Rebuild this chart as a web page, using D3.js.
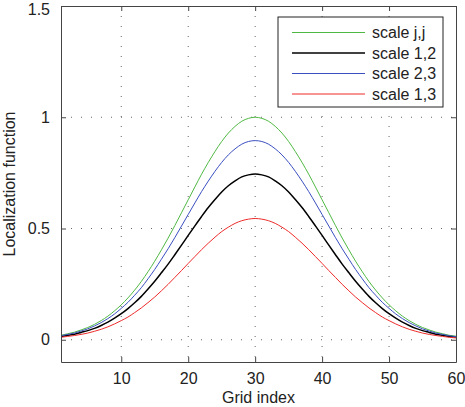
<!DOCTYPE html>
<html>
<head>
<meta charset="utf-8">
<script src="https://cdn.jsdelivr.net/npm/d3@7"></script>
<style>
  body { margin: 0; background: #fff; }
  svg text { font-family: "Liberation Sans", Arial, sans-serif; fill: #222; }
  .grid line { stroke: #555; stroke-width: 0.9; stroke-dasharray: 1,9; }
</style>
</head>
<body>
<div id="chart"></div>
<script>
// grid index 1..60
let gridIndex = d3.range(1, 61);

// values
let scaleJJ = [0.020,0.027,0.034,0.044,0.055,0.069,0.086,0.106,0.130,0.157,
               0.188,0.223,0.262,0.306,0.353,0.404,0.457,0.513,0.571,0.629,
               0.687,0.744,0.797,0.846,0.891,0.929,0.959,0.982,0.995,1.000,
               0.995,0.982,0.959,0.929,0.891,0.846,0.797,0.744,0.687,0.629,
               0.571,0.513,0.457,0.404,0.353,0.306,0.262,0.223,0.188,0.157,
               0.130,0.106,0.086,0.069,0.055,0.044,0.034,0.027,0.020,0.016];

let scale12 = [0.015,0.020,0.025,0.033,0.041,0.051,0.064,0.079,0.097,0.117,
               0.140,0.166,0.195,0.228,0.263,0.301,0.340,0.382,0.425,0.469,
               0.512,0.554,0.594,0.630,0.664,0.692,0.714,0.732,0.741,0.745,
               0.741,0.732,0.714,0.692,0.664,0.630,0.594,0.554,0.512,0.469,
               0.425,0.382,0.340,0.301,0.263,0.228,0.195,0.166,0.140,0.117,
               0.097,0.079,0.064,0.051,0.041,0.033,0.025,0.020,0.015,0.012];

let scale23 = [0.018,0.024,0.030,0.039,0.049,0.062,0.077,0.095,0.116,0.141,
               0.168,0.200,0.234,0.274,0.316,0.362,0.409,0.459,0.511,0.563,
               0.615,0.666,0.713,0.757,0.797,0.831,0.858,0.879,0.891,0.895,
               0.891,0.879,0.858,0.831,0.797,0.757,0.713,0.666,0.615,0.563,
               0.511,0.459,0.409,0.362,0.316,0.274,0.234,0.200,0.168,0.141,
               0.116,0.095,0.077,0.062,0.049,0.039,0.030,0.024,0.018,0.014];

let scale13 = [0.011,0.015,0.019,0.024,0.030,0.038,0.047,0.058,0.071,0.086,
               0.102,0.122,0.143,0.167,0.192,0.220,0.249,0.280,0.311,0.343,
               0.374,0.405,0.434,0.461,0.486,0.506,0.523,0.535,0.542,0.545,
               0.542,0.535,0.523,0.506,0.486,0.461,0.434,0.405,0.374,0.343,
               0.311,0.280,0.249,0.220,0.192,0.167,0.143,0.122,0.102,0.086,
               0.071,0.058,0.047,0.038,0.030,0.024,0.019,0.015,0.011,0.008];

let seriesNames = ["scale j,j", "scale 1,2", "scale 2,3", "scale 1,3"];
let xTicks = [10, 20, 30, 40, 50, 60];
let yTicks = [0, 0.5, 1, 1.5];

let colors = ["#4fb843", "#000000", "#3a4fc0", "#ee2b2b"];
let widths = [1, 1.5, 1, 1];

let width = 465, height = 407;
let margin = {top: 6, left: 61, right: 9, bottom: 45};
let innerW = width - margin.left - margin.right;
let innerH = height - margin.top - margin.bottom;

let x = d3.scaleLinear().domain([1, 60]).range([0, innerW]);
let y = d3.scaleLinear().domain([-0.1, 1.5]).range([innerH, 0]);

let svg = d3.select("#chart").append("svg")
    .attr("width", width)
    .attr("height", height);

let group = svg.append("g")
    .attr("transform", "translate(" + margin.left + "," + margin.top + ")");

// dotted grid
let grid = group.append("g").attr("class", "grid");
grid.selectAll(".gx")
    .data(xTicks.filter(d => d < 60))
    .enter().append("line")
    .attr("x1", d => x(d)).attr("x2", d => x(d))
    .attr("y1", 0).attr("y2", innerH);
grid.selectAll(".gy")
    .data(yTicks.filter(d => d < 1.5))
    .enter().append("line")
    .attr("x1", 0).attr("x2", innerW)
    .attr("y1", d => y(d)).attr("y2", d => y(d));

// curves
let data = [scaleJJ, scale12, scale23, scale13];
let line = d3.line()
    .x((d, i) => x(gridIndex[i]))
    .y(d => y(d))
    .curve(d3.curveMonotoneX);

group.selectAll(".curve")
    .data(data)
    .enter().append("path")
    .attr("class", "curve")
    .attr("fill", "none")
    .attr("stroke", (d, i) => colors[i])
    .attr("stroke-width", (d, i) => widths[i])
    .attr("d", d => line(d));

// axes with inward ticks, on all four sides
let axisColor = "#444";
let xAxis = d3.axisBottom(x).tickValues(xTicks).tickSizeInner(-5).tickSizeOuter(0).tickPadding(11);
let yAxis = d3.axisLeft(y).tickValues(yTicks).tickSizeInner(-5).tickSizeOuter(0).tickPadding(11)
    .tickFormat(d => d === 0 ? "0" : d === 1 ? "1" : d3.format(".1f")(d));
let xTop = d3.axisTop(x).tickValues(xTicks).tickSizeInner(-5).tickSizeOuter(0).tickFormat("");
let yRight = d3.axisRight(y).tickValues(yTicks).tickSizeInner(-5).tickSizeOuter(0).tickFormat("");

group.append("g").attr("transform", "translate(0," + innerH + ")").call(xAxis);
let yG = group.append("g").call(yAxis);
group.append("g").call(xTop);
group.append("g").attr("transform", "translate(" + innerW + ",0)").call(yRight);

group.selectAll(".domain, .tick line").attr("stroke", axisColor);
group.selectAll(".tick text")
    .style("font-size", "16px")
    .style("font-family", "'Liberation Sans', Arial, sans-serif")
    .attr("fill", "#222");

// top label sits a little lower so it stays inside the page
yG.selectAll(".tick text").filter(d => d === 1.5).attr("dy", "0.5em");

// axis labels
svg.append("text")
    .attr("x", margin.left + innerW / 2)
    .attr("y", 403)
    .attr("text-anchor", "middle")
    .style("font-size", "16px")
    .text("Grid index");

svg.append("text")
    .attr("transform", "translate(15," + (margin.top + innerH / 2) + ") rotate(-90)")
    .attr("text-anchor", "middle")
    .style("font-size", "16px")
    .text("Localization function");

// legend
let legend = group.append("g")
    .attr("transform", "translate(" + (278 - margin.left) + "," + (17 - margin.top) + ")");

legend.append("rect")
    .attr("width", 165).attr("height", 90)
    .attr("fill", "#fff")
    .attr("stroke", "#222")
    .attr("stroke-width", 1);

let rows = legend.selectAll(".row")
    .data(seriesNames)
    .enter().append("g")
    .attr("transform", (d, i) => "translate(0," + (15.5 + i * 20.5) + ")");

rows.append("line")
    .attr("x1", 14).attr("x2", 87)
    .attr("stroke", (d, i) => colors[i])
    .attr("stroke-width", (d, i) => widths[i]);

rows.append("text")
    .attr("x", 94)
    .attr("dy", "0.35em")
    .style("font-size", "16px")
    .text(d => d);
</script>
</body>
</html>
